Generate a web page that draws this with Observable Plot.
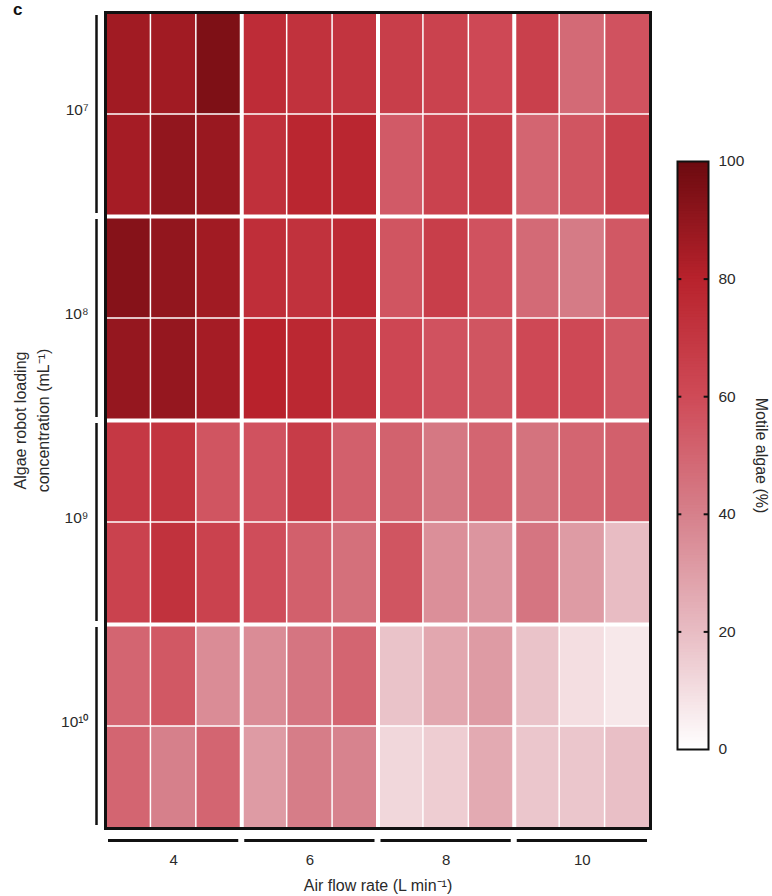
<!DOCTYPE html>
<html><head><meta charset="utf-8">
<script src="https://cdn.jsdelivr.net/npm/d3@7"></script>
<script src="https://cdn.jsdelivr.net/npm/@observablehq/plot@0.6"></script>
<style>
body{margin:0;background:#fff;font-family:"Liberation Sans",Arial,Helvetica,sans-serif;}
#wrap{position:relative;width:772px;height:896px;overflow:hidden;}
#legend{position:absolute;left:660px;top:140px;}
#panel{position:absolute;left:13px;top:0px;font:bold 17px/20px "Liberation Sans",Arial,sans-serif;color:#111;}
</style></head><body>
<div id="wrap"><div id="main"></div><div id="legend"></div><div id="panel">c</div></div>
<script>
// Air flow rate groups (L min^-1), 3 replicate columns each
const flowRates = [4, 6, 8, 10];
// Algae robot loading concentration groups (mL^-1), 2 replicate rows each
const concentrations = ["10⁷", "10⁸", "10⁹", "10¹⁰"];
// Motile algae (%) per concentration: 2 replicate rows x 12 columns (4 flow rates x 3)
const motile_1e7 = [
  [86, 86, 95, 75, 72, 71, 66, 64, 61, 65, 48, 57],
  [85, 90, 88, 73, 78, 78, 54, 64, 66, 50, 56, 65]
];
const motile_1e8 = [
  [93, 90, 86, 74, 72, 76, 56, 66, 57, 48, 42, 55],
  [89, 89, 85, 80, 77, 72, 62, 57, 56, 61, 61, 55]
];
const motile_1e9 = [
  [69, 71, 56, 57, 67, 52, 51, 43, 50, 45, 50, 52],
  [64, 72, 64, 59, 52, 46, 56, 35, 33, 44, 31, 20]
];
const motile_1e10 = [
  [50, 55, 36, 36, 44, 50, 18, 27, 31, 18, 10, 7],
  [50, 40, 50, 31, 41, 39, 12, 15, 26, 17, 17, 19]
];
const legendTicks = [0, 20, 40, 60, 80, 100];
const colorStops = [0, 20, 40, 60, 80, 100];
const colorRange = ["#ffffff", "#e8bcc3", "#d6808b", "#cf4a57", "#b8222c", "#6b0a0f"];

const groups = [motile_1e7, motile_1e8, motile_1e9, motile_1e10];
const rowsPerConc = motile_1e7.length;
const colsPerRate = motile_1e7[0].length / flowRates.length;
const nCols = flowRates.length * colsPerRate;
const nRows = concentrations.length * rowsPerConc;

const cells = [];
groups.forEach((g, ci) => g.forEach((rowVals, rr) => rowVals.forEach((v, c) => {
  cells.push({row: ci * rowsPerConc + rr, col: c, value: v});
})));

const font = '"Liberation Sans", Arial, Helvetica, sans-serif';
const colorOpt = {type: "linear", domain: colorStops, range: colorRange, interpolate: "rgb"};
const ink = "#2a2a2a";

const main = Plot.plot({
  width: 772, height: 896,
  marginLeft: 105, marginRight: 122, marginTop: 12, marginBottom: 68,
  x: {domain: [0, nCols], axis: null},
  y: {domain: [0, nRows], reverse: true, axis: null},
  color: colorOpt,
  style: {fontFamily: font, color: ink, background: "white"},
  marks: [
    Plot.rect(cells, {x1: "col", x2: d => d.col + 1, y1: "row", y2: d => d.row + 1, fill: "value", inset: 0.75}),
    Plot.ruleX(d3.range(1, flowRates.length), {x: g => g * colsPerRate, stroke: "white", strokeWidth: 4}),
    Plot.ruleY(d3.range(1, concentrations.length), {y: g => g * rowsPerConc, stroke: "white", strokeWidth: 4}),
    Plot.frame({stroke: "#111", strokeWidth: 3}),
    // bracket axes
    Plot.ruleX(d3.range(concentrations.length), {x: 0, y1: g => g * rowsPerConc, y2: g => (g + 1) * rowsPerConc, dx: -9, insetTop: 3, insetBottom: 3, stroke: "#111", strokeWidth: 2.5}),
    Plot.ruleY(d3.range(flowRates.length), {y: nRows, x1: g => g * colsPerRate, x2: g => (g + 1) * colsPerRate, dy: 12, insetLeft: 3, insetRight: 3, stroke: "#111", strokeWidth: 3}),
    // tick labels
    Plot.text(concentrations, {x: 0, y: (d, i) => i * rowsPerConc + rowsPerConc / 2, text: d => d, dx: -17, dy: -4, textAnchor: "end", fontSize: 15.5, fill: ink}),
    Plot.text(flowRates, {x: (d, i) => i * colsPerRate + colsPerRate / 2, y: nRows, text: d => String(d), dy: 32, fontSize: 15, fill: ink}),
    // axis titles
    Plot.text(["Air flow rate (L min⁻¹)"], {x: nCols / 2, y: nRows, text: d => d, dy: 57, fontSize: 16, fill: ink}),
    Plot.text(["Algae robot loading\nconcentration (mL⁻¹)"], {x: 0, y: nRows / 2, text: d => d, dx: -75, rotate: -90, lineHeight: 1.4, fontSize: 16, fill: ink})
  ]
});
document.getElementById("main").append(main);

const steps = d3.range(0, 100, 0.5);
const legend = Plot.plot({
  width: 112, height: 640,
  marginLeft: 17, marginRight: 64, marginTop: 21, marginBottom: 31,
  x: {domain: [0, 1], axis: null},
  y: {domain: [0, 100], axis: null},
  color: colorOpt,
  style: {fontFamily: font, color: ink, background: "transparent", overflow: "visible"},
  marks: [
    Plot.rect(steps, {x1: 0, x2: 1, y1: d => d, y2: d => Math.min(100, d + 0.8), fill: d => d + 0.25}),
    Plot.ruleY(legendTicks.slice(1, -1), {y: d => d, x1: 0, x2: 0.14, stroke: "#111", strokeWidth: 2}),
    Plot.ruleY(legendTicks.slice(1, -1), {y: d => d, x1: 0.86, x2: 1, stroke: "#111", strokeWidth: 2}),
    Plot.frame({stroke: "#111", strokeWidth: 2}),
    Plot.text(legendTicks, {x: 1, y: d => d, text: d => String(d), dx: 10, textAnchor: "start", fontSize: 15.5, fill: ink}),
    Plot.text(["Motile algae (%)"], {x: 1, y: 50, text: d => d, dx: 53, rotate: 90, fontSize: 16, fill: ink})
  ]
});
document.getElementById("legend").append(legend);
</script>
</body></html>
